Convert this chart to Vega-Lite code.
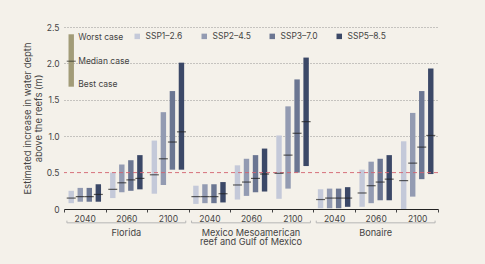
{
  "$schema": "https://vega.github.io/schema/vega-lite/v6.json",
  "width": 374,
  "height": 182,
  "autosize": {"type": "none"},
  "padding": {"left": 64, "top": 27, "right": 47, "bottom": 55},
  "background": "#f4f1ea",
  "config": {
    "font": "Inter",
    "view": {"stroke": null},
    "text": {"font": "Inter"},
    "axis": {"labelFont": "Inter", "titleFont": "Inter", "labelColor": "#444", "titleColor": "#444", "labelFontSize": 8.5, "titleFontSize": 9.5, "titleFontWeight": "normal"},
    "axisY": {"labelOverlap": false, "domain": false, "ticks": false, "labelPadding": 5},
    "legend": {"labelFont": "Inter", "labelColor": "#444", "labelFontSize": 8.5}
  },
  "datasets": {
    "bars": [
      {"slot": "Florida 2040", "s": "SSP1–2.6", "lo": 0.08, "md": 0.15, "hi": 0.25},
      {"slot": "Florida 2040", "s": "SSP2–4.5", "lo": 0.10, "md": 0.17, "hi": 0.29},
      {"slot": "Florida 2040", "s": "SSP3–7.0", "lo": 0.10, "md": 0.17, "hi": 0.29},
      {"slot": "Florida 2040", "s": "SSP5–8.5", "lo": 0.10, "md": 0.20, "hi": 0.34},
      {"slot": "Florida 2060", "s": "SSP1–2.6", "lo": 0.15, "md": 0.27, "hi": 0.50},
      {"slot": "Florida 2060", "s": "SSP2–4.5", "lo": 0.23, "md": 0.36, "hi": 0.61},
      {"slot": "Florida 2060", "s": "SSP3–7.0", "lo": 0.25, "md": 0.40, "hi": 0.67},
      {"slot": "Florida 2060", "s": "SSP5–8.5", "lo": 0.27, "md": 0.42, "hi": 0.74},
      {"slot": "Florida 2100", "s": "SSP1–2.6", "lo": 0.21, "md": 0.47, "hi": 0.94},
      {"slot": "Florida 2100", "s": "SSP2–4.5", "lo": 0.33, "md": 0.69, "hi": 1.33},
      {"slot": "Florida 2100", "s": "SSP3–7.0", "lo": 0.54, "md": 0.92, "hi": 1.62},
      {"slot": "Florida 2100", "s": "SSP5–8.5", "lo": 0.54, "md": 1.06, "hi": 2.01},
      {"slot": "Mexico 2040", "s": "SSP1–2.6", "lo": 0.07, "md": 0.17, "hi": 0.32},
      {"slot": "Mexico 2040", "s": "SSP2–4.5", "lo": 0.08, "md": 0.17, "hi": 0.34},
      {"slot": "Mexico 2040", "s": "SSP3–7.0", "lo": 0.08, "md": 0.17, "hi": 0.34},
      {"slot": "Mexico 2040", "s": "SSP5–8.5", "lo": 0.09, "md": 0.21, "hi": 0.37},
      {"slot": "Mexico 2060", "s": "SSP1–2.6", "lo": 0.13, "md": 0.33, "hi": 0.60},
      {"slot": "Mexico 2060", "s": "SSP2–4.5", "lo": 0.18, "md": 0.37, "hi": 0.69},
      {"slot": "Mexico 2060", "s": "SSP3–7.0", "lo": 0.23, "md": 0.42, "hi": 0.74},
      {"slot": "Mexico 2060", "s": "SSP5–8.5", "lo": 0.24, "md": 0.48, "hi": 0.83},
      {"slot": "Mexico 2100", "s": "SSP1–2.6", "lo": 0.14, "md": 0.49, "hi": 1.01},
      {"slot": "Mexico 2100", "s": "SSP2–4.5", "lo": 0.28, "md": 0.74, "hi": 1.41},
      {"slot": "Mexico 2100", "s": "SSP3–7.0", "lo": 0.50, "md": 1.04, "hi": 1.78},
      {"slot": "Mexico 2100", "s": "SSP5–8.5", "lo": 0.59, "md": 1.20, "hi": 2.08},
      {"slot": "Bonaire 2040", "s": "SSP1–2.6", "lo": 0.01, "md": 0.13, "hi": 0.27},
      {"slot": "Bonaire 2040", "s": "SSP2–4.5", "lo": 0.01, "md": 0.15, "hi": 0.28},
      {"slot": "Bonaire 2040", "s": "SSP3–7.0", "lo": 0.01, "md": 0.15, "hi": 0.28},
      {"slot": "Bonaire 2040", "s": "SSP5–8.5", "lo": 0.03, "md": 0.15, "hi": 0.30},
      {"slot": "Bonaire 2060", "s": "SSP1–2.6", "lo": 0.03, "md": 0.22, "hi": 0.54},
      {"slot": "Bonaire 2060", "s": "SSP2–4.5", "lo": 0.08, "md": 0.32, "hi": 0.65},
      {"slot": "Bonaire 2060", "s": "SSP3–7.0", "lo": 0.12, "md": 0.37, "hi": 0.69},
      {"slot": "Bonaire 2060", "s": "SSP5–8.5", "lo": 0.12, "md": 0.41, "hi": 0.74},
      {"slot": "Bonaire 2100", "s": "SSP1–2.6", "lo": 0.00, "md": 0.39, "hi": 0.93},
      {"slot": "Bonaire 2100", "s": "SSP2–4.5", "lo": 0.17, "md": 0.63, "hi": 1.32},
      {"slot": "Bonaire 2100", "s": "SSP3–7.0", "lo": 0.41, "md": 0.85, "hi": 1.62},
      {"slot": "Bonaire 2100", "s": "SSP5–8.5", "lo": 0.48, "md": 1.01, "hi": 1.93}
    ],
    "regions": [
      {"label": "Florida", "first": "Florida 2040", "mid": "Florida 2060", "last": "Florida 2100"},
      {"label": "Mexico Mesoamerican\nreef and Gulf of Mexico", "first": "Mexico 2040", "mid": "Mexico 2060", "last": "Mexico 2100"},
      {"label": "Bonaire", "first": "Bonaire 2040", "mid": "Bonaire 2060", "last": "Bonaire 2100"}
    ],
    "key": [
      {"slot": "Florida 2040", "s": "SSP1–2.6", "lo": 1.68, "md": 2.03, "hi": 2.40}
    ],
    "keytext": [
      {"slot": "Florida 2040", "s": "SSP1–2.6", "v": 2.36, "t": "Worst case"},
      {"slot": "Florida 2040", "s": "SSP1–2.6", "v": 2.03, "t": "Median case"},
      {"slot": "Florida 2040", "s": "SSP1–2.6", "v": 1.72, "t": "Best case"}
    ],
    "threshold": [{"v": 0.5}]
  },
  "layer": [
    {
      "data": {"name": "bars"},
      "mark": {"type": "bar"},
      "encoding": {
        "x": {
          "field": "slot", "type": "nominal", "title": null,
          "scale": {"domain": ["Florida 2040", "Florida 2060", "Florida 2100", "Mexico 2040", "Mexico 2060", "Mexico 2100", "Bonaire 2040", "Bonaire 2060", "Bonaire 2100"], "paddingInner": 0, "paddingOuter": 0},
          "axis": {"labelExpr": "slice(datum.label, -4)", "labelAngle": 0, "tickBand": "extent", "tickSize": 3, "tickColor": "#444", "domainColor": "#222", "domainWidth": 1.2, "labelPadding": 2, "grid": false}
        },
        "xOffset": {"field": "s", "type": "nominal", "sort": ["SSP1–2.6", "SSP2–4.5", "SSP3–7.0", "SSP5–8.5"], "scale": {"paddingInner": 0.4, "paddingOuter": 0.5}},
        "y": {
          "field": "lo", "type": "quantitative",
          "scale": {"domain": [0, 2.5], "nice": false, "zero": true},
          "axis": {
            "title": ["Estimated increase in water depth", "above the reefs (m)"],
            "titlePadding": 3, "titleLineHeight": 10.5,
            "values": [0, 0.5, 1, 1.5, 2, 2.5],
            "tickCount": 6,
            "labelOverlap": false,
            "labelExpr": "datum.value === 0 ? '0' : format(datum.value, '.1f')",
            "domain": false, "ticks": false, "labelPadding": 5,
            "grid": true, "gridDash": [1, 2], "gridWidth": 0.9,
            "gridColor": {"condition": {"test": "datum.value === 0 || datum.value === 0.5", "value": "transparent"}, "value": "#8a8a8a"}
          }
        },
        "y2": {"field": "hi"},
        "color": {
          "field": "s", "type": "nominal",
          "scale": {"domain": ["SSP1–2.6", "SSP2–4.5", "SSP3–7.0", "SSP5–8.5"], "range": ["#c4c9d9", "#939bb2", "#6b7692", "#3b4867"]},
          "legend": {"title": null, "orient": "none", "direction": "horizontal", "legendX": 69, "legendY": 5, "symbolType": "square", "symbolSize": 30, "symbolStrokeWidth": 0, "labelOffset": 4, "columnPadding": 17, "padding": 0}
        }
      }
    },
    {
      "data": {"name": "threshold"},
      "mark": {"type": "rule", "color": "#d2626f", "strokeDash": [4, 3], "strokeWidth": 0.9},
      "encoding": {"y": {"field": "v", "type": "quantitative"}}
    },
    {
      "data": {"name": "bars"},
      "mark": {"type": "tick", "color": "#1f1f1f", "size": 9, "thickness": 1.2},
      "encoding": {
        "x": {"field": "slot", "type": "nominal", "title": null},
        "xOffset": {"field": "s", "type": "nominal"},
        "y": {"field": "md", "type": "quantitative"}
      }
    },
    {
      "data": {"name": "key"},
      "mark": {"type": "bar", "color": "#a29c78"},
      "encoding": {
        "x": {"field": "slot", "type": "nominal", "title": null},
        "xOffset": {"field": "s", "type": "nominal"},
        "y": {"field": "lo", "type": "quantitative"},
        "y2": {"field": "hi"}
      }
    },
    {
      "data": {"name": "key"},
      "mark": {"type": "tick", "color": "#3a3a30", "size": 9, "thickness": 1.2},
      "encoding": {
        "x": {"field": "slot", "type": "nominal", "title": null},
        "xOffset": {"field": "s", "type": "nominal"},
        "y": {"field": "md", "type": "quantitative"}
      }
    },
    {
      "data": {"name": "keytext"},
      "mark": {"type": "text", "align": "left", "baseline": "middle", "dx": 7, "fontSize": 8.5, "color": "#444"},
      "encoding": {
        "x": {"field": "slot", "type": "nominal", "title": null},
        "xOffset": {"field": "s", "type": "nominal"},
        "y": {"field": "v", "type": "quantitative"},
        "text": {"field": "t"}
      }
    },
    {
      "data": {"name": "regions"},
      "mark": {"type": "rule", "color": "#b5b5b5", "strokeWidth": 1},
      "encoding": {
        "x": {"field": "first", "type": "nominal", "bandPosition": 0.07, "title": null},
        "x2": {"field": "last", "bandPosition": 0.93},
        "y": {"datum": -0.19, "type": "quantitative"}
      }
    },
    {
      "data": {"name": "regions"},
      "mark": {"type": "rule", "color": "#b5b5b5", "strokeWidth": 1},
      "encoding": {
        "x": {"field": "first", "type": "nominal", "bandPosition": 0.07, "title": null},
        "y": {"datum": -0.19, "type": "quantitative"},
        "y2": {"datum": -0.16}
      }
    },
    {
      "data": {"name": "regions"},
      "mark": {"type": "rule", "color": "#b5b5b5", "strokeWidth": 1},
      "encoding": {
        "x": {"field": "last", "type": "nominal", "bandPosition": 0.93, "title": null},
        "y": {"datum": -0.19, "type": "quantitative"},
        "y2": {"datum": -0.16}
      }
    },
    {
      "data": {"name": "regions"},
      "mark": {"type": "text", "baseline": "top", "align": "center", "fontSize": 9.2, "color": "#444", "lineBreak": "\n", "lineHeight": 9.5},
      "encoding": {
        "x": {"field": "mid", "type": "nominal", "title": null},
        "y": {"datum": -0.27, "type": "quantitative"},
        "text": {"field": "label"}
      }
    }
  ]
}
